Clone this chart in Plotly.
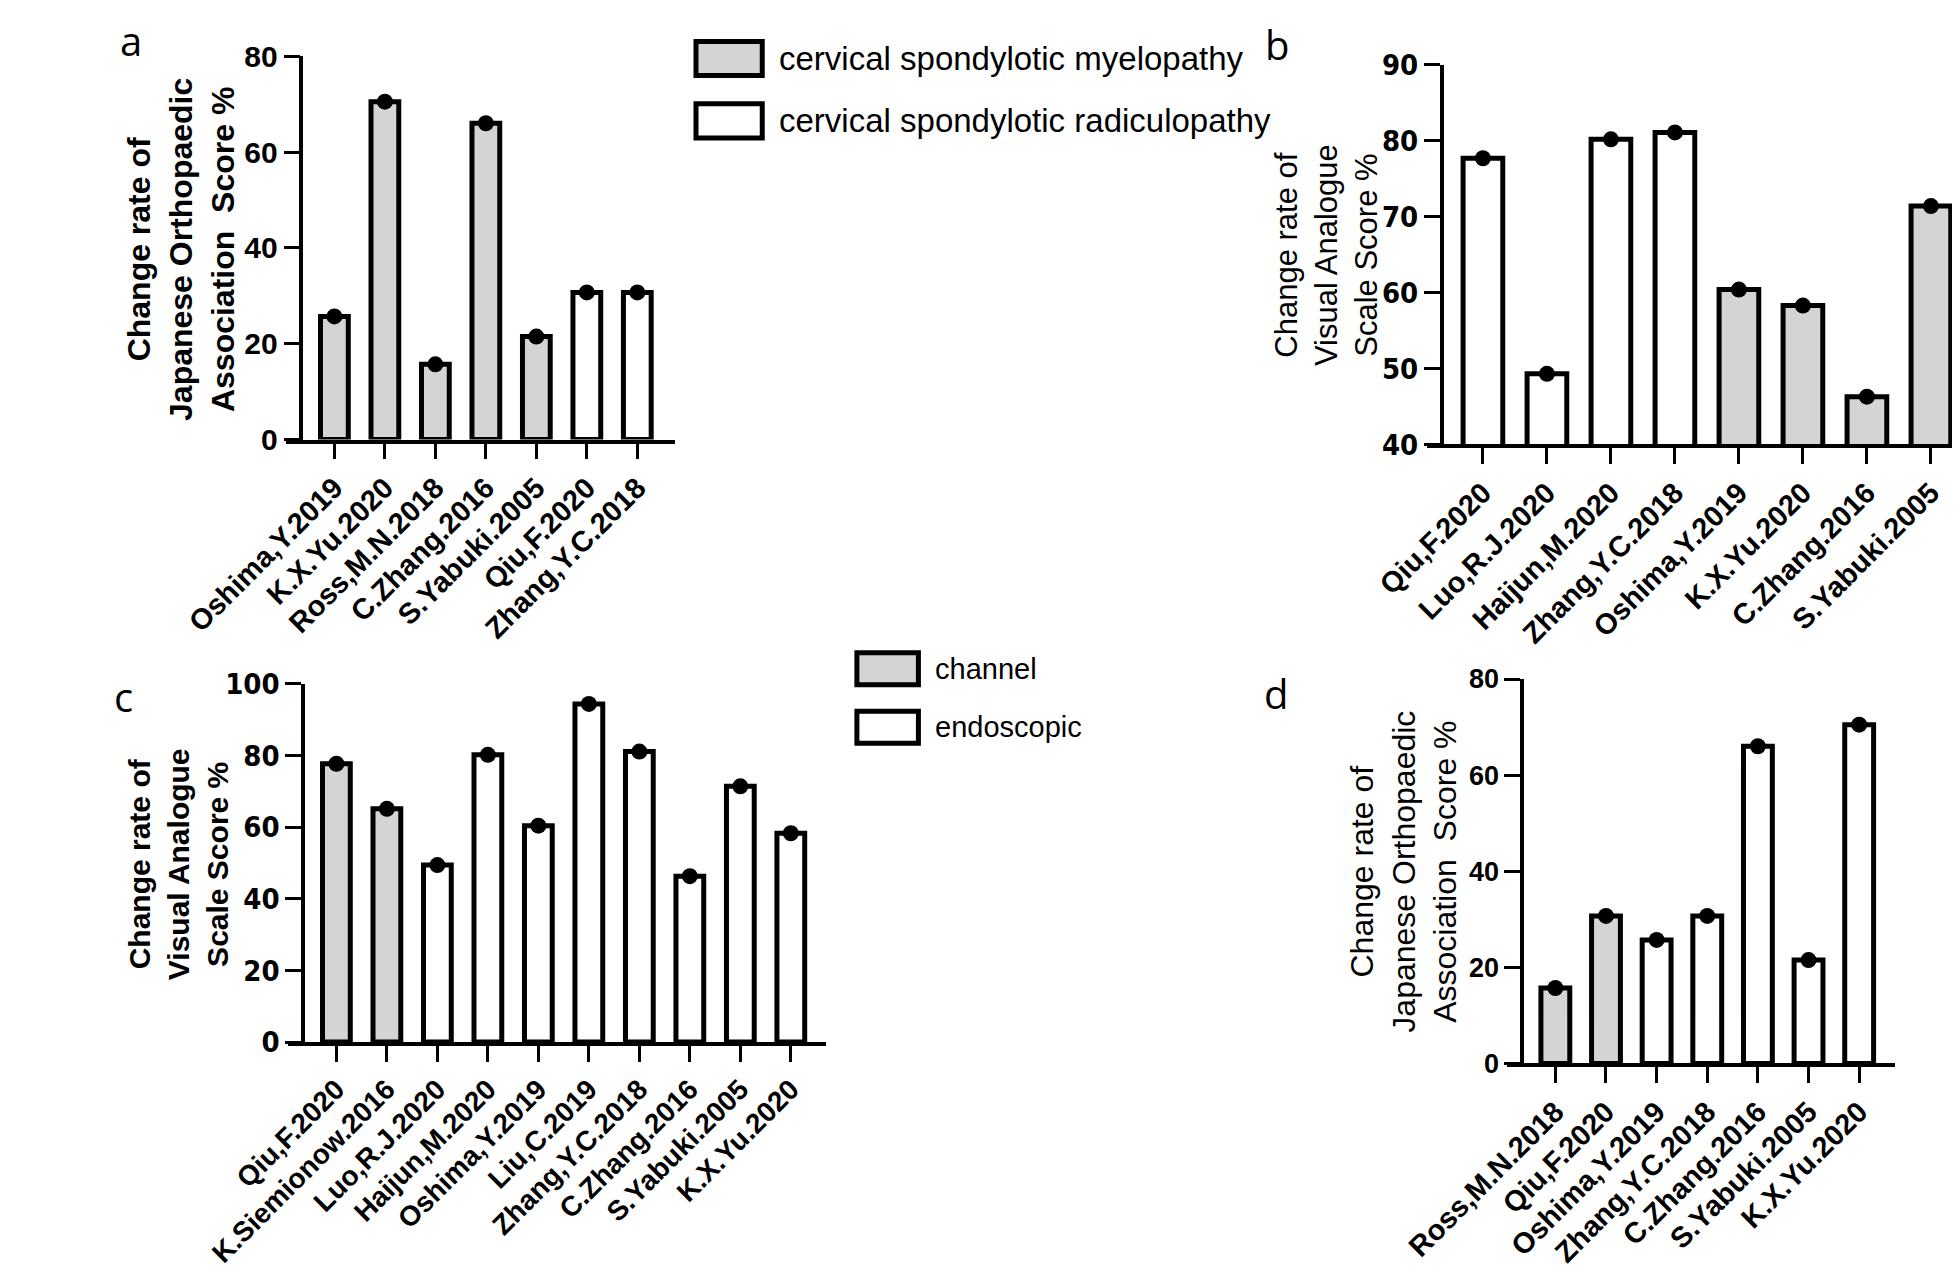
import plotly.graph_objects as go

W, H = 1960, 1270
GREY = "#d4d4d4"
WHITE = "#ffffff"

# ---- panel a : JOA change rate, myelopathy vs radiculopathy
a_studies = ["Oshima,Y.2019", "K.X.Yu.2020", "Ross,M.N.2018", "C.Zhang.2016",
             "S.Yabuki.2005", "Qiu,F.2020", "Zhang,Y.C.2018"]
a_change = [25.7, 70.5, 15.7, 66.0, 21.5, 30.7, 30.7]
a_group = ["myelopathy"] * 5 + ["radiculopathy"] * 2

# ---- panel b : VAS change rate, radiculopathy vs myelopathy
b_studies = ["Qiu,F.2020", "Luo,R.J.2020", "Haijun,M.2020", "Zhang,Y.C.2018",
             "Oshima,Y.2019", "K.X.Yu.2020", "C.Zhang.2016", "S.Yabuki.2005"]
b_change = [77.7, 49.3, 80.2, 81.1, 60.4, 58.3, 46.3, 71.4]
b_group = ["radiculopathy"] * 4 + ["myelopathy"] * 4

# ---- panel c : VAS change rate, channel vs endoscopic
c_studies = ["Qiu,F.2020", "K.Siemionow.2016", "Luo,R.J.2020", "Haijun,M.2020",
             "Oshima,Y.2019", "Liu,C.2019", "Zhang,Y.C.2018", "C.Zhang.2016",
             "S.Yabuki.2005", "K.X.Yu.2020"]
c_change = [77.7, 65.1, 49.4, 80.2, 60.4, 94.4, 81.1, 46.3, 71.4, 58.3]
c_group = ["channel"] * 2 + ["endoscopic"] * 8

# ---- panel d : JOA change rate, channel vs endoscopic
d_studies = ["Ross,M.N.2018", "Qiu,F.2020", "Oshima,Y.2019", "Zhang,Y.C.2018",
             "C.Zhang.2016", "S.Yabuki.2005", "K.X.Yu.2020"]
d_change = [15.7, 30.7, 25.7, 30.7, 66.0, 21.5, 70.5]
d_group = ["channel"] * 2 + ["endoscopic"] * 5

fill_of = {"myelopathy": GREY, "radiculopathy": WHITE, "channel": GREY, "endoscopic": WHITE}

joa_title = "Change rate of<br>Japanese Orthopaedic<br>Association&nbsp; Score %"
vas_title = "Change rate of<br>Visual Analogue<br>Scale Score %"

ARIAL = "Liberation Sans, Arial, sans-serif"
NARROW = "Liberation Sans Narrow, Arial Narrow, DejaVu Sans Condensed, Liberation Sans, sans-serif"

# layout of each panel in pixels
panels = [
    dict(studies=a_studies, vals=a_change, grp=a_group, x0=199, x1=594, ytop=32, ybot=426,
         lo=0.655, hi=0.75, yr=[0, 80], dt=20, bw=0.55, ytf=ARIAL, ytfs=30, xtfs=29,
         title=joa_title, tx=72, ty=231, tbold=True, tfs=32, letter="a", lx=19, ly=16),
    dict(studies=b_studies, vals=b_change, grp=b_group, x0=1404, x1=1958, ytop=41, ybot=431,
         lo=0.643, hi=0.55, yr=[40, 90], dt=10, bw=0.62, ytf=NARROW, ytfs=29, xtfs=29,
         title=vas_title, tx=1282, ty=236, tbold=False, tfs=31, letter="b", lx=1230, ly=20),
    dict(studies=c_studies, vals=c_change, grp=c_group, x0=201, x1=753, ytop=677, ybot=1045,
         lo=0.657, hi=0.69, yr=[0, 100], dt=20, bw=0.55, ytf=NARROW, ytfs=29, xtfs=28,
         title=vas_title, tx=70, ty=862, tbold=True, tfs=30, letter="c", lx=11, ly=690),
    dict(studies=d_studies, vals=d_change, grp=d_group, x0=1489, x1=1883, ytop=672, ybot=1067,
         lo=0.654, hi=0.71, yr=[0, 80], dt=20, bw=0.57, ytf=ARIAL, ytfs=27, xtfs=29,
         title=joa_title, tx=1364, ty=870, tbold=False, tfs=32, letter="d", lx=1229, ly=687),
]

TL = 16  # tick length

fig = go.Figure()
annotations = []
layout = {}

for i, p in enumerate(panels, start=1):
    xa = "x" if i == 1 else f"x{i}"
    ya = "y" if i == 1 else f"y{i}"
    n = len(p["studies"])
    sp = (p["x1"] - p["x0"]) / (n - 1 + p["lo"] + p["hi"])

    fig.add_trace(go.Bar(
        x=p["studies"], y=p["vals"], width=p["bw"],
        marker=dict(color=[fill_of[g] for g in p["grp"]], line=dict(color="black", width=5)),
        xaxis=xa, yaxis=ya, showlegend=False, hoverinfo="skip"))
    fig.add_trace(go.Scatter(
        x=p["studies"], y=p["vals"], mode="markers",
        marker=dict(color="black", size=16), cliponaxis=False,
        xaxis=xa, yaxis=ya, showlegend=False))

    layout[xa.replace("x", "xaxis")] = dict(
        type="category", anchor=ya,
        domain=[(p["x0"] - TL) / W, p["x1"] / W],
        range=[-p["lo"] - TL / sp, n - 1 + p["hi"]],
        showline=True, linewidth=3.5, linecolor="black", showgrid=False, zeroline=False,
        ticks="outside", ticklen=TL, tickwidth=3, tickcolor="black", tickangle=-45,
        tickfont=dict(family=ARIAL, size=p["xtfs"], color="black", weight="bold"))
    layout[ya.replace("y", "yaxis")] = dict(
        anchor="free", position=p["x0"] / W,
        domain=[1 - p["ybot"] / H, 1 - p["ytop"] / H],
        range=p["yr"], dtick=p["dt"], tick0=0,
        showline=True, linewidth=3.5, linecolor="black", showgrid=False, zeroline=False,
        ticks="outside", ticklen=TL, tickwidth=3, tickcolor="black",
        tickfont=dict(family=p["ytf"], size=p["ytfs"], color="black", weight="bold"))

    txt = f"<b>{p['title']}</b>" if p["tbold"] else p["title"]
    annotations.append(dict(
        text=txt, x=p["tx"] / W, y=1 - p["ty"] / H, xref="paper", yref="paper",
        textangle=-90, showarrow=False, align="center", xanchor="center", yanchor="middle",
        font=dict(family=ARIAL, size=p["tfs"], color="black")))
    annotations.append(dict(
        text=p["letter"], x=p["lx"] / W, y=1 - p["ly"] / H, xref="paper", yref="paper",
        showarrow=False, xanchor="center", yanchor="middle",
        font=dict(family="Open Sans, Noto Sans, sans-serif", size=40, color="black")))

# legend boxes drawn by hand
legends = [
    dict(x0=616, x1=686, rows=[(17, 52, GREY, "cervical spondylotic myelopathy"),
                               (81, 116, WHITE, "cervical spondylotic radiculopathy")],
         tx=702, fs=33),
    dict(x0=786, x1=851, rows=[(645, 678, GREY, "channel"),
                               (705, 738, WHITE, "endoscopic")],
         tx=866, fs=29),
]
shapes = []
for lg in legends:
    for (y0, y1, col, label) in lg["rows"]:
        shapes.append(dict(type="rect", xref="paper", yref="paper",
                           x0=lg["x0"] / W, x1=lg["x1"] / W, y0=1 - y1 / H, y1=1 - y0 / H,
                           fillcolor=col, line=dict(color="black", width=5)))
        annotations.append(dict(
            text=label, x=lg["tx"] / W, y=1 - (y0 + y1) / 2 / H, xref="paper", yref="paper",
            showarrow=False, xanchor="left", yanchor="middle",
            font=dict(family=ARIAL, size=lg["fs"], color="black")))

fig.update_layout(
    width=W, height=H, margin=dict(l=0, r=0, t=0, b=0),
    paper_bgcolor="white", plot_bgcolor="white",
    annotations=annotations, shapes=shapes, **layout)

fig.write_html("out.html")
